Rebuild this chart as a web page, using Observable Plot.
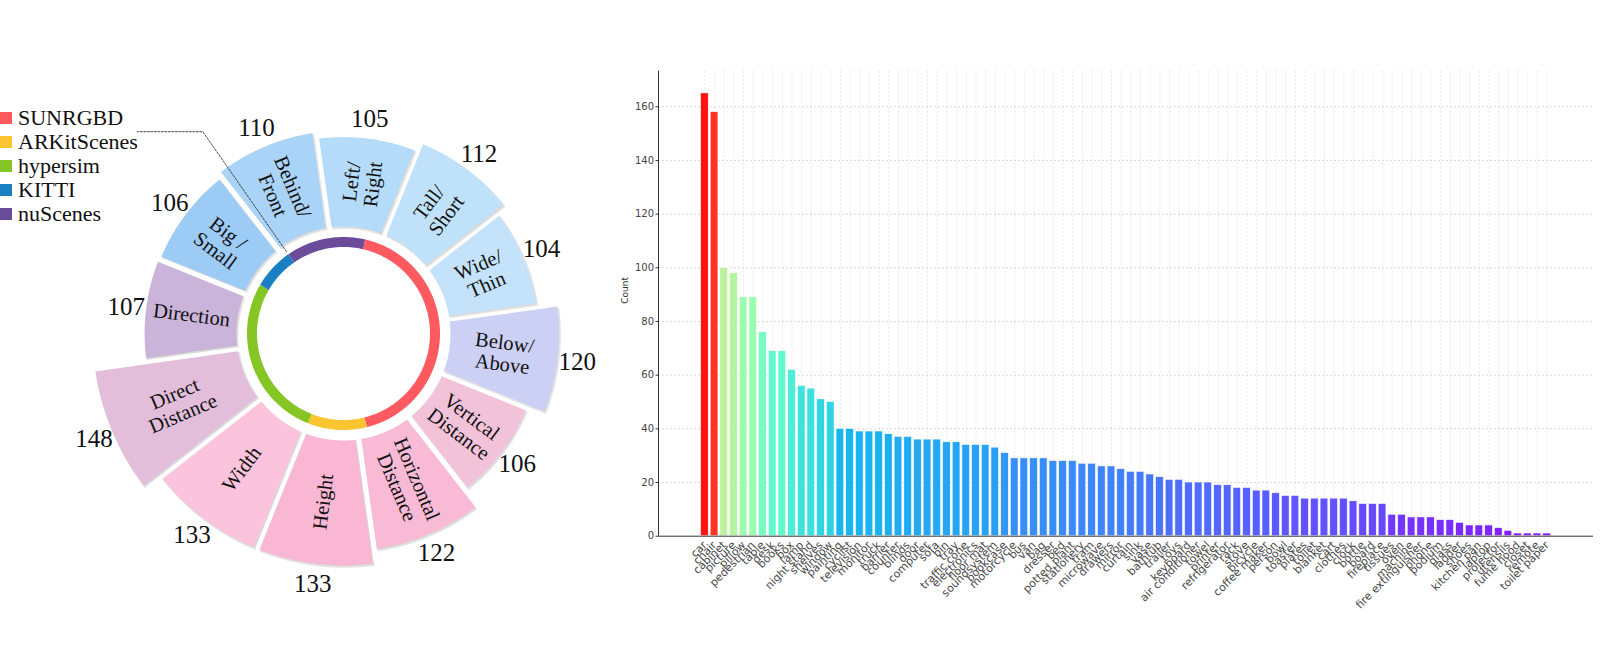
<!DOCTYPE html>
<html><head><meta charset="utf-8">
<script src="https://cdn.jsdelivr.net/npm/d3@7"></script>
<script src="https://cdn.jsdelivr.net/npm/@observablehq/plot@0.6"></script>
<style>
body{margin:0;background:#fff;}
#wrap{position:relative;width:1600px;height:655px;overflow:hidden;background:#fff;}
#left{position:absolute;left:0;top:0;}
#right{position:absolute;left:600px;top:0;}
#legend{position:absolute;left:0;top:106px;font-family:"Liberation Serif",serif;font-size:22px;color:#111;}
.row{display:flex;align-items:center;height:24px;white-space:nowrap;}
.sw{width:12px;height:12px;margin-right:6px;flex:none;}
</style></head><body>
<div id="wrap"><div id="left"></div><div id="right"></div><div id="legend"></div></div>
<script>
// ---------- data: spatial question types (clockwise from top) ----------
const questionLabels = ["Left/\nRight", "Tall/\nShort", "Wide/\nThin", "Below/\nAbove", "Vertical\nDistance", "Horizontal\nDistance", "Height", "Width", "Direct\nDistance", "Direction", "Big /\nSmall", "Behind/\nFront"];
const questionCounts = [105, 112, 104, 120, 106, 122, 133, 133, 148, 107, 106, 110];
const questionColors = ["#b4dbf9", "#bfe1fa", "#c4e3fb", "#ccd0f5", "#f2c2d9", "#f8bad5", "#f9b7d3", "#fbc4dc", "#e2bedb", "#cab4da", "#9ccbf6", "#a9d3f7"];

// ---------- data: source datasets (share of questions, %) ----------
const datasetNames = ["SUNRGBD", "ARKitScenes", "hypersim", "KITTI", "nuScenes"];
const datasetShares = [42.5, 9.9, 27.4, 6.9, 13.3];
const datasetColors = ["#ff5a60", "#fbc531", "#85c625", "#1b80c3", "#6b4c9a"];

// ---------- data: object category counts ----------
const objectNames = ["car","chair","cabinet","picture","pillow","pedestrian","table","desk","books","box","lamp","night stand","shelves","window","painting","cyclist","television","monitor","truck","barrier","counter","blinds","door","computer","sofa","bin","tray","traffic cone","electronics","floor mat","soundsystem","bookcase","motorcycle","bus","van","bag","dresser","bed","potted plant","stationery","tram","microwave","drawers","mirror","curtain","sink","vase","bathtub","trailer","toys","keyboard","air conditioner","towel","printer","refrigerator","rack","stove","bicycle","coffee maker","person","bowl","toaster","plates","toilet","blanket","cart","clothes","clock","bottle","board","fireplace","tissues","oven","machine","fire extinguisher","phone","podium","glass","ladder","shoes","kitchen pan","laptop","projector","utensils","fume hood","closet","remote","toilet paper"];
const objectCounts = [165,158,100,98,89,89,76,69,69,62,56,55,51,50,40,40,39,39,39,38,37,37,36,36,36,35,35,34,34,34,33,31,29,29,29,29,28,28,28,27,27,26,26,25,24,24,23,22,21,21,20,20,20,19,19,18,18,17,17,16,15,15,14,14,14,14,14,13,12,12,12,8,8,7,7,7,6,6,5,4,4,4,3,2,1,1,1,1];
const yTicks = [0, 20, 40, 60, 80, 100, 120, 140, 160];

// ---------- left: polar chart ----------
const W1 = 600, H = 655, CX = 343, CY = 333;
const n = questionCounts.length;
const sector = 360 / n;
const firstCenter = 7;
const rInner = 107;
const radius = d3.scaleLinear().domain([0, 148]).range([63, 251]);
const rad = a => a * Math.PI / 180;
const P = (a, r) => [r * Math.sin(rad(a)), -r * Math.cos(rad(a))];

const wedgePts = [];
const wedges = questionCounts.map((v, k) => {
  const c = firstCenter + k * sector;
  const a0 = c - sector / 2, a1 = c + sector / 2;
  const rOut = radius(v);
  const pad = 3;
  const steps = 40;
  const o0 = a0 + pad / rOut * 180 / Math.PI, o1 = a1 - pad / rOut * 180 / Math.PI;
  const i0 = a0 + pad / rInner * 180 / Math.PI, i1 = a1 - pad / rInner * 180 / Math.PI;
  for (let s = 0; s <= steps; s++) { const [x, y] = P(o0 + (o1 - o0) * s / steps, rOut); wedgePts.push({k, x, y, color: questionColors[k]}); }
  for (let s = steps; s >= 0; s--) { const [x, y] = P(i0 + (i1 - i0) * s / steps, rInner); wedgePts.push({k, x, y, color: questionColors[k]}); }
  const [tx, ty] = P(c, (rInner + rOut) / 2);
  const [nx, ny] = P(c, rOut + 20);
  const rot = c < 180 ? c - 90 : c - 270;
  return {k, label: questionLabels[k], value: v, tx, ty, nx, ny, rot};
});

const ringR = 91.5;
const ringStart = 13;
const ringPts = [];
let acc = ringStart;
datasetShares.forEach((s, i) => {
  const span = s * 3.6;
  const steps = Math.max(8, Math.ceil(span));
  for (let j = 0; j <= steps; j++) { const [x, y] = P(acc + span * j / steps, ringR); ringPts.push({i, x, y, color: datasetColors[i]}); }
  acc += span;
});
const nuStart = ringStart + 3.6 * d3.sum(datasetShares.slice(0, 4));
const leadA = P(nuStart, ringR + 8.5);
const leadB = P(nuStart, 246);
const leader = [{x: leadA[0], y: leadA[1]}, {x: leadB[0], y: leadB[1]}, {x: -206, y: leadB[1]}];

const serif = "Liberation Serif, serif";
const left = Plot.plot({
  width: W1, height: H, margin: 0,
  x: {domain: [-CX, W1 - CX], range: [0, W1], axis: null},
  y: {domain: [-CY, H - CY], range: [0, H], axis: null},
  color: {type: "identity"},
  style: {background: "transparent"},
  marks: [
    Plot.line(wedgePts, {x: "x", y: "y", z: "k", fill: "#d9d9d9", stroke: "#e4e4e4", strokeWidth: 1.5, dx: 1.2, dy: 1.6, curve: "linear"}),
    Plot.line(wedgePts, {x: "x", y: "y", z: "k", fill: "color", stroke: "none", curve: "linear"}),
    Plot.line(ringPts, {x: "x", y: "y", z: "i", stroke: "color", strokeWidth: 10, strokeLinecap: "butt", curve: "linear"}),
    Plot.line(leader, {x: "x", y: "y", stroke: "#333", strokeWidth: 0.9, strokeDasharray: "2,1.5", curve: "linear"}),
    Plot.text(wedges, {x: "tx", y: "ty", text: "label", rotate: "rot", fontSize: 20.5, fontFamily: serif, fill: "#111", lineHeight: 1.05}),
    Plot.text(wedges, {x: "nx", y: "ny", text: d => String(d.value), fontSize: 25, fontFamily: serif, fill: "#111"})
  ]
});
document.getElementById("left").append(left);

// legend
const lg = document.getElementById("legend");
datasetNames.forEach((nm, i) => {
  const row = document.createElement("div"); row.className = "row";
  const sw = document.createElement("div"); sw.className = "sw"; sw.style.background = datasetColors[i];
  const tx = document.createElement("span"); tx.textContent = nm;
  row.append(sw, tx); lg.append(row);
});

// ---------- right: bar chart ----------
const N = objectCounts.length;
const maxC = d3.max(objectCounts);
function rainbow(t) {
  const r = Math.min(1, Math.max(0, Math.abs(2 * t - 0.5)));
  const g = Math.min(1, Math.max(0, Math.sin(Math.PI * t)));
  const b = Math.min(1, Math.max(0, Math.cos(Math.PI * t / 2)));
  return d3.rgb(r * 255, g * 255, b * 255).formatHex();
}
const rows = objectNames.map((name, i) => ({i, name, count: objectCounts[i]}));
const idx = d3.range(N);
const xlo = -0.4 - 0.05 * (N - 1 + 0.8), xhi = N - 1 + 0.4 + 0.05 * (N - 1 + 0.8);
const ytop = maxC * 1.05;

const right = Plot.plot({
  width: 1000, height: H,
  marginLeft: 58, marginRight: 7, marginTop: 70.7, marginBottom: 119.3,
  x: {domain: [xlo, xhi], axis: null},
  y: {domain: [0, ytop], axis: null},
  style: {background: "transparent", fontFamily: "DejaVu Sans, sans-serif", fontSize: "10px", color: "#444"},
  marks: [
    Plot.gridY(yTicks.slice(1), {stroke: "#cccccc", strokeOpacity: 0.75, strokeDasharray: "2,2"}),
    Plot.gridX(idx, {stroke: "#d6d6d6", strokeOpacity: 0.6, strokeDasharray: "2,2"}),
    Plot.rectY(rows, {x1: d => d.i - 0.4, x2: d => d.i + 0.4, y1: 0, y2: "count", fill: d => rainbow(d.count / maxC), fillOpacity: 0.92, stroke: "white", strokeWidth: 0.6}),
    Plot.ruleY([0], {stroke: "#333", strokeWidth: 1}),
    Plot.ruleX([xlo], {stroke: "#333", strokeWidth: 1}),
    Plot.axisY(yTicks, {tickSize: 2.5, tickPadding: 2, fontSize: 10, fill: "#444", stroke: "#333", label: null}),
    Plot.axisX(idx, {tickFormat: i => objectNames[i], tickRotate: -45, textAnchor: "end", tickSize: 0, tickPadding: 7, fontSize: 11, fill: "#4a4a4a", label: null}),
    Plot.text(["Count"], {frameAnchor: "left", dx: -33, rotate: -90, fontSize: 9, fill: "#333"})
  ]
});
document.getElementById("right").append(right);
</script>
</body></html>
